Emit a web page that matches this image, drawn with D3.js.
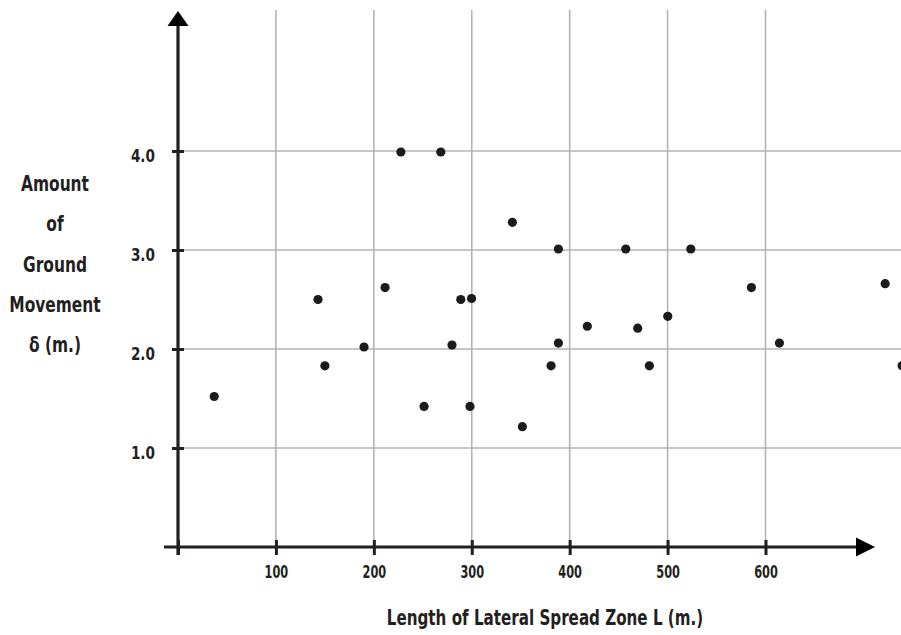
<!DOCTYPE html>
<html>
<head>
<meta charset="utf-8">
<script src="https://cdn.jsdelivr.net/npm/d3@7"></script>
<style>
  body { margin: 0; background: #fff; }
  svg { display: block; }
  text { font-family: "Liberation Sans Narrow", "DejaVu Sans Condensed", "DejaVu Sans", sans-serif; font-weight: bold; fill: #231f20; }
</style>
</head>
<body>
<div id="chart"></div>
<script>
// length of lateral spread zone L (m.)
const lengths = [37, 143, 150, 190, 211.5, 227.6, 251.3, 268.4, 279.8, 288.8, 299.8, 298.2,
  341.5, 351.7, 381, 388.5, 388.5, 418, 457.3, 469.5, 481.4, 500.2, 523.7, 585.6, 614.2, 722.2, 739.5];
// amount of ground movement δ (m.)
const movements = [1.52, 2.5, 1.83, 2.02, 2.62, 3.99, 1.42, 3.99, 2.04, 2.5, 2.51, 1.42,
  3.28, 1.215, 1.83, 3.01, 2.06, 2.23, 3.01, 2.21, 1.83, 2.33, 3.01, 2.62, 2.06, 2.66, 1.83];
const xTicks = [100, 200, 300, 400, 500, 600];
const yTicks = [1, 2, 3, 4];
const yTitle = ["Amount", "of", "Ground", "Movement", "δ (m.)"];
const xTitle = "Length of Lateral Spread Zone L (m.)";

const width = 901, height = 635;
const ink = "#231f20";

// squeeze glyphs so the wide fallback font looks like the condensed original
function condense(sel, factor) {
    sel.each(function() {
        const w = this.getComputedTextLength();
        d3.select(this).attr("textLength", w * factor).attr("lengthAdjust", "spacingAndGlyphs");
    });
}

const svg = d3.select("#chart").append("svg")
    .attr("width", width)
    .attr("height", height);

const x = d3.scaleLinear().domain([0, 600]).range([178, 765.5]);
const y = d3.scaleLinear().domain([0, 4]).range([547, 151]);

// grid
svg.append("g").selectAll("line")
    .data(xTicks)
    .join("line")
    .attr("x1", d => x(d)).attr("x2", d => x(d))
    .attr("y1", 10).attr("y2", y(0))
    .attr("stroke", "#b3b3b3").attr("stroke-width", 1.6);

svg.append("g").selectAll("line")
    .data(yTicks)
    .join("line")
    .attr("x1", x(0)).attr("x2", width)
    .attr("y1", d => y(d)).attr("y2", d => y(d))
    .attr("stroke", "#b3b3b3").attr("stroke-width", 1.6);

// axes
const xAxis = svg.append("g")
    .attr("transform", `translate(0,${y(0)})`)
    .call(d3.axisBottom(x).tickValues([0, ...xTicks]).tickSize(0).tickPadding(18)
        .tickFormat(d => d === 0 ? "" : d));
xAxis.select(".domain").remove();
xAxis.selectAll(".tick line").attr("y1", -7).attr("y2", 8)
    .attr("stroke", ink).attr("stroke-width", 3);
xAxis.selectAll(".tick text").attr("font-size", 18).attr("font-family", null).attr("fill", ink)
    .call(condense, 0.7);

const yAxis = svg.append("g")
    .attr("transform", `translate(${x(0)},0)`)
    .call(d3.axisLeft(y).tickValues(yTicks).tickSize(0).tickPadding(23)
        .tickFormat(d3.format(".1f")));
yAxis.select(".domain").remove();
yAxis.selectAll(".tick line").attr("x1", -6).attr("x2", 6)
    .attr("stroke", ink).attr("stroke-width", 3);
yAxis.selectAll(".tick text").attr("font-size", 18).attr("font-family", null)
    .attr("dy", "0.6em").attr("fill", ink)
    .call(condense, 0.84);

// axis lines with arrows
svg.append("line")
    .attr("x1", 164).attr("x2", 860)
    .attr("y1", y(0)).attr("y2", y(0))
    .attr("stroke", ink).attr("stroke-width", 3.2);
svg.append("path")
    .attr("d", `M875,${y(0)} L856,${y(0) - 9.5} L856,${y(0) + 9.5} Z`)
    .attr("fill", "#000");

svg.append("line")
    .attr("x1", x(0)).attr("x2", x(0))
    .attr("y1", 22).attr("y2", 555)
    .attr("stroke", ink).attr("stroke-width", 3.2);
svg.append("path")
    .attr("d", `M${x(0)},11 L${x(0) - 10.5},26 L${x(0) + 10.5},26 Z`)
    .attr("fill", "#000");

// points
svg.append("g").selectAll("circle")
    .data(d3.zip(lengths, movements))
    .join("circle")
    .attr("cx", d => x(d[0]))
    .attr("cy", d => y(d[1]))
    .attr("r", 4.6)
    .attr("fill", "#1c1a1b");

// titles
svg.append("g")
    .selectAll("text")
    .data(yTitle)
    .join("text")
    .attr("x", 55)
    .attr("y", (d, i) => 191 + i * 40.3)
    .attr("text-anchor", "middle")
    .attr("font-size", 22)
    .text(d => d)
    .call(condense, 0.78);

svg.append("text")
    .attr("x", 545)
    .attr("y", 625)
    .attr("text-anchor", "middle")
    .attr("font-size", 22)
    .text(xTitle)
    .call(condense, 0.765);
</script>
</body>
</html>
